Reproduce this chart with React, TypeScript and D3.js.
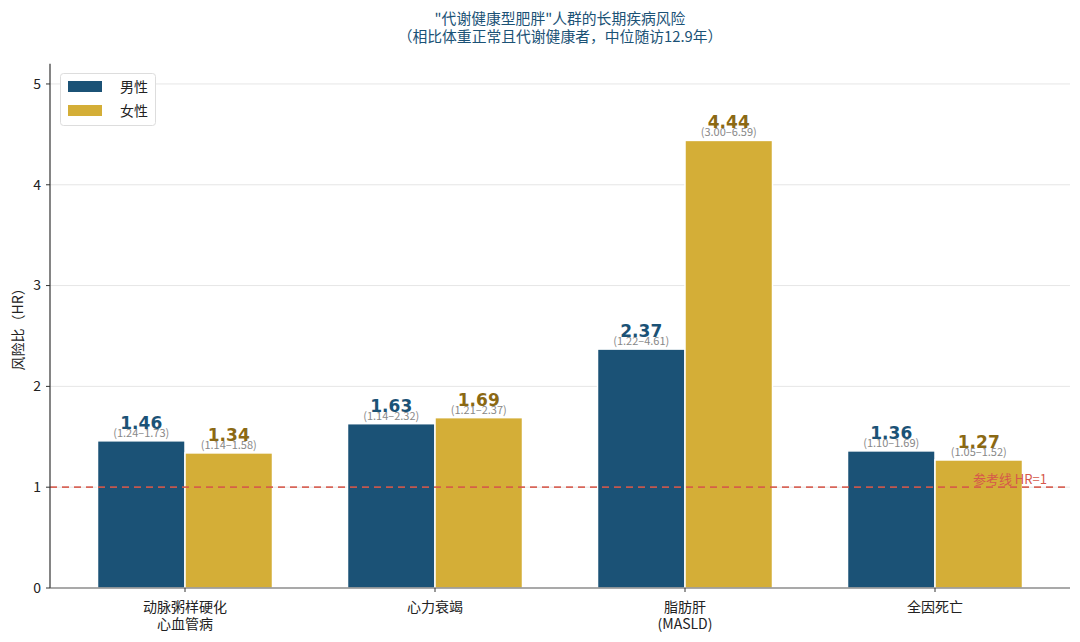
import React from "react";
import * as d3 from "d3";

const categories = ["动脉粥样硬化\n心血管病", "心力衰竭", "脂肪肝\n(MASLD)", "全因死亡"];
const maleHR = [1.46, 1.63, 2.37, 1.36];
const femaleHR = [1.34, 1.69, 4.44, 1.27];
const maleCI = ["(1.24–1.73)", "(1.14–2.32)", "(1.22–4.61)", "(1.10–1.69)"];
const femaleCI = ["(1.14–1.58)", "(1.21–2.37)", "(3.00–6.59)", "(1.05–1.52)"];
const yTicks = [0, 1, 2, 3, 4, 5];
const seriesNames = ["男性", "女性"];

const W = 1080, H = 642;
const M = { left: 50, right: 10, top: 63.8, bottom: 54 };
const MALE = "#1b5276";
const FEMALE = "#d4ae37";
const MALE_TXT = "#1b5276";
const FEMALE_TXT = "#8b6914";
const FONT = "'Noto Sans CJK SC', 'Noto Sans', sans-serif";
const NUMFONT = "'DejaVu Sans', sans-serif";

export default function App() {
  const x = d3.scaleLinear().domain([-0.54, categories.length - 1 + 0.54]).range([M.left, W - M.right]);
  const y = d3.scaleLinear().domain([0, 5.2]).range([H - M.bottom, M.top]);
  const bw = 0.35;
  const pxW = x(bw) - x(0);
  const series = [
    { vals: maleHR, ci: maleCI, color: MALE, txt: MALE_TXT, off: -bw / 2 },
    { vals: femaleHR, ci: femaleCI, color: FEMALE, txt: FEMALE_TXT, off: bw / 2 },
  ];
  return (
    <svg width={W} height={H} style={{ position: "absolute", left: 0, top: 0, background: "#fff" }}>
      <g fontFamily={FONT}>
        {yTicks.filter((t) => t > 0).map((t) => (
          <line key={"g" + t} x1={M.left} x2={W - M.right} y1={y(t)} y2={y(t)} stroke="#e6e6e6" strokeWidth={1} />
        ))}
        {series.map((s, si) =>
          s.vals.map((v, i) => {
            const cx = x(i + s.off);
            return (
              <g key={si + "-" + i}>
                <rect x={cx - pxW / 2} y={y(v)} width={pxW} height={y(0) - y(v)} fill={s.color} stroke="#fff" strokeWidth={1.5} />
                <text x={cx} y={y(v) - 12} textAnchor="middle" fontFamily={NUMFONT} fontWeight="bold" fontSize={17} fill={s.txt}>
                  {v.toFixed(2)}
                </text>
                <text x={cx} y={y(v) - 4} textAnchor="middle" fontSize={11} fill="#888">
                  {s.ci[i]}
                </text>
              </g>
            );
          })
        )}
        <line x1={M.left} x2={W - M.right} y1={y(1)} y2={y(1)} stroke="#d6584a" strokeWidth={1.8} strokeDasharray="7,5" opacity={0.9} />
        <text x={1047} y={y(1) - 3} textAnchor="end" fontSize={13} fill="#d6584a">参考线 HR=1</text>
        {/* axes */}
        <line x1={M.left} x2={M.left} y1={M.top} y2={y(0)} stroke="#333" strokeWidth={1.2} />
        <line x1={M.left} x2={W - M.right} y1={y(0)} y2={y(0)} stroke="#555" strokeWidth={1.2} />
        {yTicks.map((t) => (
          <g key={"t" + t}>
            <line x1={M.left - 4} x2={M.left} y1={y(t)} y2={y(t)} stroke="#333" />
            <text x={M.left - 9} y={y(t)} dy="0.35em" textAnchor="end" fontSize={14} fill="#222">{t}</text>
          </g>
        ))}
        {categories.map((c, i) => (
          <g key={"c" + i}>
            <line x1={x(i)} x2={x(i)} y1={y(0)} y2={y(0) + 4} stroke="#333" />
            {c.split("\n").map((ln, k) => (
              <text key={k} x={x(i)} y={y(0) + 24 + k * 17} textAnchor="middle" fontSize={14} fill="#222">{ln}</text>
            ))}
          </g>
        ))}
        <text transform={`translate(23,${(M.top + y(0)) / 2}) rotate(-90)`} textAnchor="middle" fontSize={14} fill="#222">风险比（HR）</text>
        {/* title */}
        <text x={560} y={24} textAnchor="middle" fontSize={14.8} fill="#1b5276">"代谢健康型肥胖"人群的长期疾病风险</text>
        <text x={560} y={42} textAnchor="middle" fontSize={14.8} fill="#1b5276">（相比体重正常且代谢健康者，中位随访12.9年）</text>
        {/* legend */}
        <rect x={60.5} y={73.5} width={95} height={52} rx={3} fill="#fff" stroke="#ddd" />
        {seriesNames.map((n, k) => (
          <g key={n}>
            <rect x={68} y={81 + k * 24} width={34} height={11} fill={k === 0 ? MALE : FEMALE} />
            <text x={120} y={87 + k * 24} dy="0.35em" fontSize={14} fill="#222">{n}</text>
          </g>
        ))}
      </g>
    </svg>
  );
}
